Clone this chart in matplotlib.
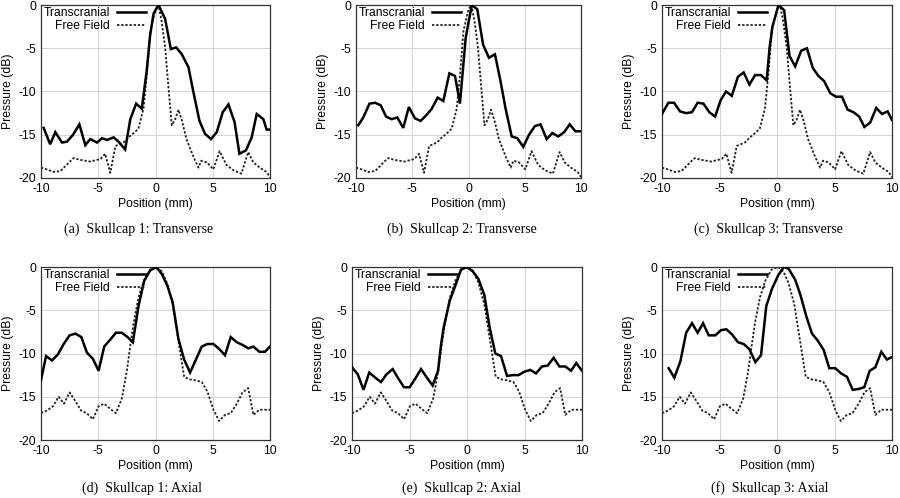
import matplotlib
matplotlib.use("Agg")
import matplotlib.pyplot as plt

plt.rcParams['font.family'] = ['Liberation Sans', 'DejaVu Sans']

# ---------------- data ----------------
# Free field, transverse (same in a, b, c)
ff_tr_x = [-10, -9.5, -8.9, -8.3, -7.4, -7.15, -6.6, -5.7, -4.8, -4.4, -3.95, -3.5, -2.8, -2.35, -1.9, -1.5,
           -1.05, -0.75, -0.45, 0.0, 0.26, 0.55, 0.85, 1.13, 1.42, 1.7, 2.0, 2.3, 2.7, 3.3, 3.75, 4.0, 4.5,
           5.05, 5.6, 6.2, 6.8, 7.5, 8.1, 8.55, 9.1, 9.7, 10]
ff_tr_y = [-18.8, -19.0, -19.3, -19.2, -18.0, -17.7, -17.9, -18.1, -17.8, -17.2, -19.4, -16.3, -15.9, -15.3, -14.8, -14.3,
           -12.0, -8.0, -3.0, -0.5, 0.0, -2.0, -5.0, -9.5, -13.9, -13.3, -12.1, -13.3, -15.5, -17.5, -18.8, -18.0, -18.2,
           -19.0, -16.9, -18.5, -19.1, -19.5, -17.0, -18.2, -18.8, -19.3, -19.9]

# Free field, axial (same in d, e, f)
ff_ax_x = [-10, -9.48, -8.95, -8.46, -8.0, -7.5, -7.0, -6.5, -6.0, -5.47, -4.97, -4.48, -3.95, -3.46, -2.94, -2.5,
           -2.15, -1.92, -1.48, -0.99, -0.47, 0.06, 0.55, 0.99, 1.5, 2.0, 2.5, 3.02, 3.5, 4.04, 4.53, 5.06, 5.55,
           6.07, 6.57, 7.1, 7.6, 8.1, 8.55, 9.07, 9.56, 10]
ff_ax_y = [-16.9, -16.6, -16.1, -15.0, -15.8, -14.5, -15.5, -16.6, -16.9, -17.6, -16.1, -15.8, -16.4, -16.9, -15.2, -12.0,
           -8.6, -6.5, -3.5, -1.5, -0.3, 0.0, -0.5, -1.8, -4.3, -8.5, -12.7, -13.0, -13.1, -13.3, -14.4, -16.5, -17.8,
           -17.1, -16.9, -15.8, -14.5, -14.0, -17.1, -16.5, -16.5, -16.5]

# Transcranial, skullcap 1 transverse
tc_a_x = [-9.77, -9.2, -8.75, -8.17, -7.73, -7.2, -6.65, -6.13, -5.7, -5.1, -4.68, -4.24, -3.66, -3.23, -2.65, -2.2,
          -1.69, -1.2, -0.76, -0.47, -0.17, 0.26, 0.84, 1.34, 1.8, 2.3, 2.88, 3.3, 3.84, 4.33, 4.85, 5.35, 5.87,
          6.37, 6.9, 7.33, 7.9, 8.4, 8.84, 9.42, 9.7, 10]
tc_a_y = [-14.2, -16.1, -14.7, -15.9, -15.8, -15.0, -13.8, -16.2, -15.5, -15.9, -15.4, -15.6, -15.3, -15.8, -16.7, -13.2,
          -11.4, -12.0, -7.5, -3.5, -1.0, 0.0, -1.6, -5.1, -4.9, -5.7, -7.2, -10.0, -13.4, -14.9, -15.5, -14.7, -12.4,
          -11.5, -13.5, -17.2, -16.8, -15.3, -12.6, -13.2, -14.4, -14.4]

# Transcranial, skullcap 2 transverse
tc_b_x = [-9.8, -9.35, -8.8, -8.3, -7.8, -7.33, -6.83, -6.33, -5.8, -5.3, -4.76, -4.25, -3.72, -3.27, -2.74, -2.24,
          -1.7, -1.2, -0.76, -0.25, 0.0, 0.3, 0.78, 1.3, 1.82, 2.35, 2.8, 3.3, 3.84, 4.34, 4.87, 5.38, 5.9,
          6.4, 6.95, 7.45, 7.98, 8.5, 9.0, 9.5, 10]
tc_b_y = [-13.9, -13.0, -11.4, -11.3, -11.6, -12.9, -13.2, -13.0, -14.2, -11.8, -13.1, -13.4, -12.7, -12.0, -10.7, -11.1,
          -7.9, -8.2, -11.4, -3.8, -2.0, 0.0, -0.5, -4.6, -6.1, -5.7, -8.5, -12.0, -15.2, -15.4, -16.4, -15.0, -14.0,
          -13.8, -15.5, -14.8, -15.2, -14.7, -13.8, -14.6, -14.6]

# Transcranial, skullcap 3 transverse
tc_c_x = [-10, -9.45, -8.95, -8.43, -7.9, -7.4, -6.9, -6.4, -5.88, -5.38, -4.9, -4.43, -3.93, -3.4, -2.9, -2.4,
          -1.9, -1.4, -0.9, -0.65, -0.4, 0.13, 0.62, 1.09, 1.58, 2.1, 2.6, 3.12, 3.6, 4.1, 4.63, 5.12, 5.65,
          6.14, 6.66, 7.15, 7.6, 8.1, 8.63, 9.13, 9.62, 10]
tc_c_y = [-12.6, -11.3, -11.3, -12.3, -12.5, -12.4, -11.3, -11.4, -12.4, -12.9, -11.0, -10.0, -10.5, -8.3, -7.8, -9.2,
          -8.1, -8.1, -8.7, -5.0, -2.5, 0.0, -0.6, -5.9, -7.1, -5.3, -5.0, -7.3, -8.2, -8.8, -10.2, -10.6, -10.6,
          -12.1, -12.4, -12.9, -14.1, -13.6, -11.9, -12.6, -12.3, -13.3]

# Transcranial, skullcap 1 axial
tc_d_x = [-10, -9.56, -9.04, -8.52, -8.02, -7.5, -7.0, -6.48, -5.99, -5.47, -4.97, -4.48, -3.95, -3.46, -2.94, -2.44,
          -1.98, -1.48, -0.99, -0.47, 0.06, 0.55, 1.05, 1.5, 2.0, 2.5, 3.02, 3.5, 4.04, 4.53, 5.06, 5.58,
          6.07, 6.57, 7.1, 7.6, 8.1, 8.55, 9.07, 9.56, 10]
tc_d_y = [-13.1, -10.3, -10.8, -10.1, -8.9, -7.9, -7.7, -8.1, -9.9, -10.6, -12.0, -9.2, -8.4, -7.6, -7.6, -8.1,
          -8.7, -4.5, -1.6, -0.4, 0.0, -0.8, -2.2, -4.1, -8.3, -10.7, -12.2, -10.8, -9.2, -8.9, -8.9, -9.5,
          -10.2, -8.1, -8.7, -9.0, -9.4, -9.2, -9.8, -9.8, -9.2]

# Transcranial, skullcap 2 axial
tc_e_x = [-10, -9.5, -9.0, -8.5, -7.97, -7.48, -7.0, -6.46, -5.97, -5.48, -4.99, -4.5, -4.0, -3.48, -2.99, -2.52,
          -2.26, -2.03, -1.5, -1.0, -0.52, 0.0, 0.5, 1.0, 1.5, 1.97, 2.46, 2.96, 3.48, 3.97, 4.49, 4.99, 5.51,
          6.0, 6.52, 7.01, 7.54, 8.03, 8.55, 9.04, 9.5, 10]
tc_e_y = [-11.6, -12.4, -14.2, -12.2, -12.8, -13.3, -12.4, -11.8, -12.9, -13.9, -13.9, -12.9, -11.8, -12.8, -13.7, -12.0,
          -9.0, -7.0, -3.9, -2.1, -0.3, 0.0, -0.5, -1.4, -3.2, -7.0, -10.0, -10.3, -12.6, -12.5, -12.5, -12.1, -11.9,
          -12.3, -11.5, -11.4, -10.5, -11.5, -11.5, -12.0, -11.1, -12.0]

# Transcranial, skullcap 3 axial
tc_f_x = [-9.42, -8.93, -8.4, -7.9, -7.39, -6.9, -6.43, -5.94, -5.36, -4.87, -4.4, -3.91, -3.39, -2.9, -2.4, -1.88,
          -1.39, -0.93, -0.43, 0.09, 0.58, 1.01, 1.59, 2.03, 2.55, 3.04, 3.54, 4.06, 4.55, 5.07, 5.57, 6.09,
          6.58, 7.1, 7.59, 8.06, 8.55, 9.07, 9.56, 10]
tc_f_y = [-11.7, -12.8, -10.9, -7.6, -6.5, -7.6, -6.5, -7.9, -7.9, -7.3, -7.2, -7.8, -8.7, -8.9, -9.5, -11.0,
          -10.2, -4.5, -2.5, -1.0, 0.0, -0.2, -1.5, -3.2, -5.7, -7.7, -8.5, -9.6, -11.7, -11.7, -12.3, -12.7,
          -14.2, -14.1, -13.9, -12.0, -11.6, -9.8, -10.7, -10.4]

captions = ["(a)  Skullcap 1: Transverse", "(b)  Skullcap 2: Transverse", "(c)  Skullcap 3: Transverse",
            "(d)  Skullcap 1: Axial", "(e)  Skullcap 2: Axial", "(f)  Skullcap 3: Axial"]
x_ticks = [-10, -5, 0, 5, 10]
y_ticks = [-20, -15, -10, -5, 0]
series_labels = ["Transcranial", "Free Field"]

panels = [
    (tc_a_x, tc_a_y, ff_tr_x, ff_tr_y),
    (tc_b_x, tc_b_y, ff_tr_x, ff_tr_y),
    (tc_c_x, tc_c_y, ff_tr_x, ff_tr_y),
    (tc_d_x, tc_d_y, ff_ax_x, ff_ax_y),
    (tc_e_x, tc_e_y, ff_ax_x, ff_ax_y),
    (tc_f_x, tc_f_y, ff_ax_x, ff_ax_y),
]

# ---------------- layout (pixels) ----------------
W, H = 900, 498
fig = plt.figure(figsize=(W / 100, H / 100), dpi=100)

axes_px = [  # left, right, top, bottom
    (41, 270, 5, 178), (356, 581, 5, 178), (662, 892, 5, 178),
    (41, 270, 267, 440), (352, 582, 267, 440), (662, 892, 267, 440),
]
cap_px = [(139, 229), (462, 229), (768, 229), (142, 488), (462, 488), (770, 488)]

for i, (l, r, t, b) in enumerate(axes_px):
    ax = fig.add_axes([l / W, 1 - b / H, (r - l) / W, (b - t) / H])
    tx, ty, fx, fy = panels[i]
    ax.plot(tx, ty, color='black', lw=1.8, solid_joinstyle='miter', label=series_labels[0], zorder=3)
    ax.plot(fx, fy, color='#222222', lw=1.3, linestyle=(0, (1.3, 1.0)), label=series_labels[1], zorder=2)
    ax.set_xlim(-10, 10)
    ax.set_ylim(-20, 0)
    ax.set_xticks(x_ticks)
    ax.set_yticks(y_ticks)
    ax.set_xticklabels([str(v) for v in x_ticks])
    ax.set_yticklabels([str(v) for v in y_ticks])
    ax.grid(True, color='#d4d4d4', lw=0.7, linestyle='-')
    ax.set_axisbelow(True)
    ax.tick_params(length=0, labelsize=8.7, pad=3.5, colors='black')
    for s in ax.spines.values():
        s.set_color('#333333')
        s.set_linewidth(0.9)
    ax.set_xlabel("Position (mm)", fontsize=8.7, labelpad=2)
    ax.set_ylabel("Pressure (dB)", fontsize=8.7, labelpad=3)
    leg = ax.legend(loc='upper left', markerfirst=False, frameon=False, fontsize=8.7,
                    handlelength=2.4, handletextpad=0.6, labelspacing=0.05,
                    borderaxespad=0.1, borderpad=0.1)
    cx, cy = cap_px[i]
    fig.text(cx / W, 1 - cy / H, captions[i], ha='center', va='center',
             fontsize=10, family=['Liberation Serif', 'DejaVu Serif'])

fig.savefig("out.png", dpi=100)
